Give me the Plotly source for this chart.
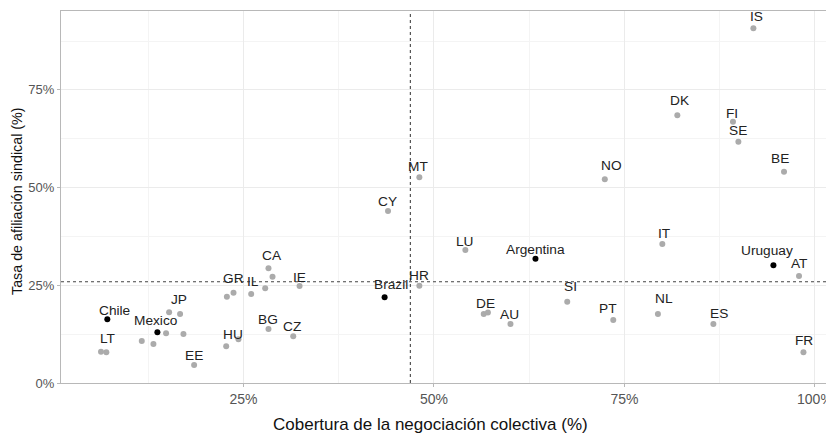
import plotly.graph_objects as go

# ---- data (percent) ----
labels = ["LT", "", "Chile", "", "", "Mexico", "", "", "JP", "", "EE", "HU", "", "", "GR", "IL", "", "CA", "",
          "BG", "IE", "CZ", "MT", "CY", "LU", "Argentina", "HR", "Brazil", "DE", "", "AU", "SI", "IS", "DK",
          "FI", "SE", "BE", "NO", "IT", "Uruguay", "AT", "PT", "NL", "ES", "FR"]
coverage = [7.0, 6.3, 7.13, 11.65, 13.18, 13.70, 14.84, 15.24, 16.68, 17.12, 18.52, 22.73, 24.34, 22.82, 23.69, 26.01,
            27.85, 28.28, 28.81, 28.28, 32.36, 31.53, 48.08, 43.97, 54.12, 63.32, 48.08, 43.52, 56.53, 57.08, 60.04,
            67.49, 91.92, 81.94, 89.24, 89.95, 95.94, 72.42, 79.97, 94.55, 97.91, 73.53, 79.39, 86.67, 98.49]
union = [7.9, 8.0, 16.30, 10.75, 9.98, 12.97, 12.72, 18.09, 17.66, 12.54, 4.61, 9.39, 11.18, 22.08, 23.11, 22.77,
         24.23, 29.35, 27.20, 13.82, 24.82, 11.95, 52.64, 44.01, 34.03, 31.81, 24.90, 21.93, 17.66, 18.04, 15.10,
         20.80, 90.76, 68.50, 66.86, 61.74, 54.07, 52.12, 35.57, 30.12, 27.38, 16.12, 17.66, 15.10, 7.86]
latam = ["Chile", "Mexico", "Argentina", "Brazil", "Uruguay"]
mean_coverage = 46.9
mean_union = 25.9
x_ticks = [25, 50, 75, 100]
y_ticks = [0, 25, 50, 75]
x_title = "Cobertura de la negociación colectiva (%)"
y_title = "Tasa de afiliación sindical (%)"

# ---- label offsets in pixels (style, not data) ----
label_shift = {
    "LT": (2, 14), "Chile": (7, 9), "Mexico": (-1, 12), "JP": (-1, 14), "EE": (0, 9), "HU": (7, 12),
    "GR": (0, 14), "IL": (2, 13), "CA": (4, 13), "IE": (0, 9), "BG": (0, 10), "CZ": (-1, 10),
    "MT": (-1, 11), "CY": (-1, 10), "LU": (0, 9), "Argentina": (0, 9), "HR": (0, 10), "Brazil": (6, 13),
    "DE": (2, 10), "AU": (-1, 10), "SI": (3, 15), "IS": (3, 12), "DK": (2, 15), "FI": (-1, 8),
    "SE": (0, 11), "BE": (-4, 13), "NO": (7, 14), "IT": (2, 11), "Uruguay": (-6, 15), "AT": (0, 13),
    "PT": (-5, 12), "NL": (6, 15), "ES": (6, 11), "FR": (1, 12),
}

FONT = "Liberation Sans, Arial, sans-serif"
OFF = 8  # default page body margin
W, H = 834 - OFF, 434 - OFF
ML, MR, MT, MB = 61 - OFF, 0, 11 - OFF, 434 - 383
PW, PH = W - ML - MR, H - MT - MB

gx = [c for c, l in zip(coverage, labels) if l not in latam]
gy = [u for u, l in zip(union, labels) if l not in latam]
bx = [c for c, l in zip(coverage, labels) if l in latam]
by = [u for u, l in zip(union, labels) if l in latam]

fig = go.Figure()
fig.add_trace(go.Scatter(x=gx, y=gy, mode="markers",
                         marker=dict(color="#ababab", size=6, line=dict(width=0)),
                         hoverinfo="skip", showlegend=False))
fig.add_trace(go.Scatter(x=bx, y=by, mode="markers",
                         marker=dict(color="#000000", size=6, line=dict(width=0)),
                         hoverinfo="skip", showlegend=False))

for c, u, l in zip(coverage, union, labels):
    if not l:
        continue
    dx, dy = label_shift.get(l, (0, 11))
    fig.add_annotation(x=c, y=u, text=l, showarrow=False, xshift=dx, yshift=dy,
                       font=dict(family=FONT, size=13.7, color="#222222"),
                       xanchor="center", yanchor="middle")

# axis titles (page pixel targets converted to paper coords)
fig.add_annotation(xref="paper", yref="paper", x=(430.5 - 61) / PW, y=(383 - 425) / PH,
                   text=x_title, showarrow=False, xanchor="center", yanchor="middle",
                   font=dict(family=FONT, size=17, color="#111111"))
fig.add_annotation(xref="paper", yref="paper", x=(17 - 61) / PW, y=(383 - 201) / PH,
                   text=y_title, showarrow=False, xanchor="center", yanchor="middle", textangle=-90,
                   font=dict(family=FONT, size=14.3, color="#111111"))

dash = dict(color="#444444", width=1.1, dash="3px,3px")
fig.add_shape(type="line", xref="x", yref="paper", x0=mean_coverage, x1=mean_coverage, y0=0, y1=1, line=dash)
fig.add_shape(type="line", xref="paper", yref="y", x0=0, x1=1, y0=mean_union, y1=mean_union, line=dash)

minor = dict(showgrid=True, gridcolor="#f4f4f4", gridwidth=0.6)
fig.update_xaxes(range=[1.05, 102.5], tickvals=x_ticks, ticktext=[f"{v}%" for v in x_ticks],
                 automargin=False,
                 showgrid=True, gridcolor="#ebebeb", gridwidth=1, zeroline=False,
                 showline=True, linecolor="#b8b8b8", linewidth=1, mirror=True,
                 ticks="outside", ticklen=3, tickcolor="#b8b8b8",
                 tickfont=dict(family=FONT, size=14, color="#555555"),
                 minor=dict(tickvals=[12.5, 37.5, 62.5, 87.5], **minor))
fig.update_yaxes(range=[0, 95.2], tickvals=y_ticks, ticktext=[f"{v}%" for v in y_ticks],
                 automargin=False,
                 showgrid=True, gridcolor="#ebebeb", gridwidth=1, zeroline=False,
                 showline=True, linecolor="#b8b8b8", linewidth=1, mirror=False,
                 ticks="outside", ticklen=3, tickcolor="#b8b8b8",
                 tickfont=dict(family=FONT, size=13, color="#555555"),
                 minor=dict(tickvals=[12.5, 37.5, 62.5, 87.5], **minor))

fig.update_layout(width=W, height=H, margin=dict(l=ML, r=MR, t=MT, b=MB, autoexpand=False),
                  paper_bgcolor="white", plot_bgcolor="white", showlegend=False)

fig.write_html("out.html")
